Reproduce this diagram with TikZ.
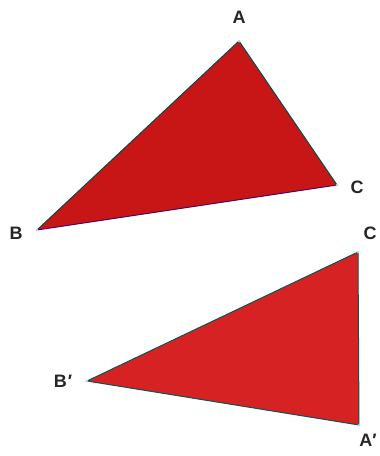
\documentclass[tikz,border=0pt]{standalone}
\usepackage{fontspec}
\setmainfont{Liberation Sans}
\definecolor{trired}{RGB}{200,22,22}
\definecolor{trired2}{RGB}{214,34,34}
\begin{document}
\begin{tikzpicture}[
		x=1pt, y=-1pt,
		tri/.style={fill=trired},
		lbl/.style={font=\bfseries\fontsize{18}{18}\selectfont, text=black!85, inner sep=0pt},
		vtx/.style={circle, fill=gray!40, inner sep=0pt, minimum size=3pt}
		]
		\useasboundingbox (0,0) rectangle (380,456);
		
		% first triangle
		\coordinate (A) at (239,41);
		\coordinate (B) at (37,230);
		\coordinate (C) at (337,185);
		\fill [tri] (A) -- (B) -- (C) -- cycle;
		\draw [teal!60!black, line width=1pt] (C) -- (A) -- (B);
		\draw [violet!70!black, line width=1pt] (B) -- (C);
		\foreach \p in {A,B,C} \node [vtx] at (\p) {};
		\node (la) at (239,17) [lbl] {A};
		\node (lb) at (16,233) [lbl] {B};
		\node (lc) at (357,187) [lbl] {C};
		
		% second triangle
		\coordinate (C2) at (358,252);
		\coordinate (B2) at (87,381);
		\coordinate (A2) at (359,425);
		\fill [tri, fill=trired2] (C2) -- (B2) -- (A2) -- cycle;
		\draw [teal!70!black, line width=1pt] (C2) -- (B2) -- (A2) -- cycle;
		\foreach \p in {A2,B2,C2} \node [vtx] at (\p) {};
		\node (lc2) at (370,233) [lbl] {C};
		\node (lb2) at (63,381) [lbl] {B\kern1pt′};
		\node (la2) at (368,440) [lbl] {A′};
	\end{tikzpicture}
\end{document}
